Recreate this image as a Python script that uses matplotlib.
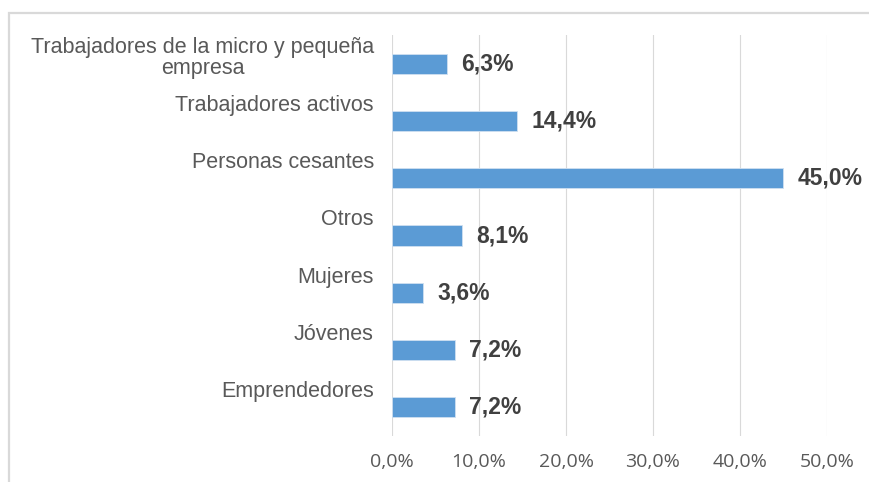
import matplotlib
matplotlib.use("Agg")
import matplotlib.pyplot as plt
from matplotlib.patches import Rectangle
from matplotlib.ticker import FuncFormatter

# data
categories = [
    "Trabajadores de la micro y pequeña\nempresa",
    "Trabajadores activos",
    "Personas cesantes",
    "Otros",
    "Mujeres",
    "Jóvenes",
    "Emprendedores",
]
values = [6.3, 14.4, 45.0, 8.1, 3.6, 7.2, 7.2]
x_ticks = [0, 10, 20, 30, 40, 50]

bar_color = "#5B9BD5"
grid_color = "#d9d9d9"
label_color = "#595959"
value_color = "#404040"

plt.rcParams["font.family"] = ["Liberation Sans", "DejaVu Sans"]

fig = plt.figure(figsize=(8.7, 4.82), dpi=100)
ax = fig.add_axes([392 / 870, 1 - 436 / 482, 435 / 870, 401 / 482])

bar_h = 0.35
ypos = list(range(len(categories)))
ax.barh(ypos, values, height=bar_h, color=bar_color, edgecolor="#cfe0f1",
        linewidth=0.6, zorder=3)

ax.set_xlim(0, 50)
ax.set_ylim(len(categories) - 0.5, -0.5)

# category labels sit above the bar: first line's baseline at bar top
# (matplotlib puts the last line on the baseline, so push wrapped labels down)
line_step = 14.4  # points
for y, name in zip(ypos, categories):
    n_extra = name.count("\n")
    ax.annotate(name, xy=(0, y - bar_h / 2), xytext=(-13, -n_extra * line_step),
                textcoords="offset points", ha="right", va="baseline",
                multialignment="center", fontsize=15.5, color=label_color,
                linespacing=0.95, annotation_clip=False)

# value labels
for y, v in zip(ypos, values):
    ax.annotate(f"{v:.1f}%".replace(".", ","), xy=(v, y), xytext=(10, 0),
                textcoords="offset points", ha="left", va="center",
                fontsize=16.5, fontweight="bold", color=value_color)

ax.set_xticks(x_ticks)
ax.xaxis.set_major_formatter(FuncFormatter(lambda x, _: f"{x:.1f}%".replace(".", ",")))
ax.set_yticks([])
ax.tick_params(axis="x", length=0, pad=12, labelsize=14, labelcolor=label_color)
for lab in ax.get_xticklabels():
    lab.set_fontfamily(["Open Sans", "DejaVu Sans"])

ax.grid(axis="x", color=grid_color, linewidth=0.8, zorder=0)
for s in ax.spines.values():
    s.set_visible(False)

# light frame around the chart (cut at right and bottom)
fig.patches.append(Rectangle((9 / 870, -0.1), 1.2, 1 - 13 / 482 + 0.1,
                             transform=fig.transFigure, fill=False,
                             edgecolor=grid_color, linewidth=1.6))

fig.savefig("out.png", dpi=100)
plt.close(fig)
